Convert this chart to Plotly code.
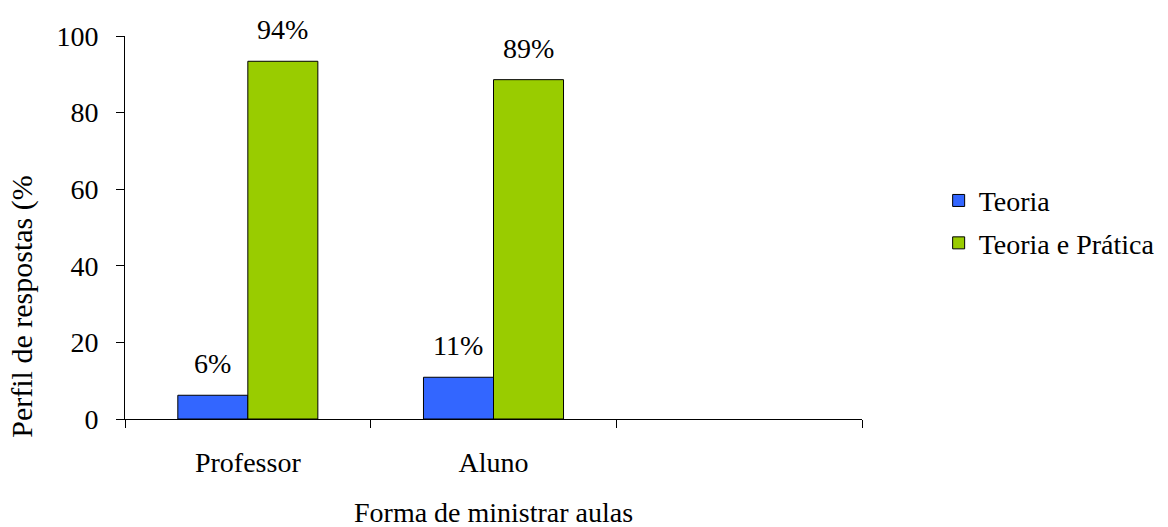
import plotly.graph_objects as go

categories = ["Professor", "Aluno", " "]
series_names = ["Teoria", "Teoria e Prática"]
teoria = [6.2, 10.9]
teoria_pratica = [93.4, 88.6]
labels_teoria = ["6%", "11%"]
labels_tp = ["94%", "89%"]
y_ticks = [0, 20, 40, 60, 80, 100]

W, H = 1168, 527
ML, MR, MT, MB = 125, 306, 36, 108
FONT = "Liberation Serif"
FS = 28

fig = go.Figure()
fig.add_trace(go.Bar(name=series_names[0], x=categories[:2], y=teoria,
                     marker=dict(color="#3366FF", line=dict(color="black", width=1)),
                     legendgroup="a"))
fig.add_trace(go.Bar(name=series_names[1], x=categories[:2], y=teoria_pratica,
                     marker=dict(color="#99CC00", line=dict(color="black", width=1)),
                     legendgroup="b"))

plot_w = W - ML - MR
bargap = 0.43
bar_px = plot_w / len(categories) * (1 - bargap) / 2

annotations = []
for cat, v, t in zip(categories, teoria, labels_teoria):
    annotations.append(dict(x=cat, y=v, text=t, xref="x", yref="y", showarrow=False,
                            xshift=-bar_px / 2, yshift=14, yanchor="bottom",
                            font=dict(family=FONT, size=FS, color="black")))
for cat, v, t in zip(categories, teoria_pratica, labels_tp):
    annotations.append(dict(x=cat, y=v, text=t, xref="x", yref="y", showarrow=False,
                            xshift=bar_px / 2, yshift=14, yanchor="bottom",
                            font=dict(family=FONT, size=FS, color="black")))
annotations.append(dict(x=-0.139, y=0.292, xref="paper", yref="paper", text="Perfil de respostas (%",
                        textangle=-90, showarrow=False, xanchor="center", yanchor="middle",
                        font=dict(family=FONT, size=30, color="black")))
annotations.append(dict(x=0.5, y=-0.243, xref="paper", yref="paper", text="Forma de ministrar aulas",
                        showarrow=False, xanchor="center", yanchor="middle",
                        font=dict(family=FONT, size=FS, color="black")))

fig.update_layout(
    width=W, height=H,
    margin=dict(l=ML, r=MR, t=MT, b=MB, autoexpand=False),
    paper_bgcolor="white", plot_bgcolor="white",
    barmode="group", bargap=bargap, bargroupgap=0,
    font=dict(family=FONT, size=FS, color="black"),
    showlegend=True,
    legend=dict(x=1.104, y=0.515, xanchor="left", yanchor="middle",
                font=dict(family=FONT, size=FS, color="black"),
                tracegroupgap=3, bgcolor="rgba(0,0,0,0)"),
    annotations=annotations,
    xaxis=dict(type="category", categoryorder="array", categoryarray=categories,
               range=[-0.5, len(categories) - 0.5], tickson="boundaries",
               ticks="outside", ticklen=8, tickcolor="black", tickwidth=1,
               ticklabelstandoff=18,
               showline=True, linecolor="black", linewidth=1,
               showgrid=False, zeroline=False, fixedrange=True,
               tickfont=dict(family=FONT, size=FS, color="black")),
    yaxis=dict(range=[0, 100], tickvals=y_ticks,
               ticks="outside", ticklen=8, tickcolor="black", tickwidth=1,
               ticklabelstandoff=12,
               showline=True, linecolor="black", linewidth=1,
               showgrid=False, zeroline=False, fixedrange=True,
               tickfont=dict(family=FONT, size=FS, color="black")),
)

fig.write_html("out.html")
